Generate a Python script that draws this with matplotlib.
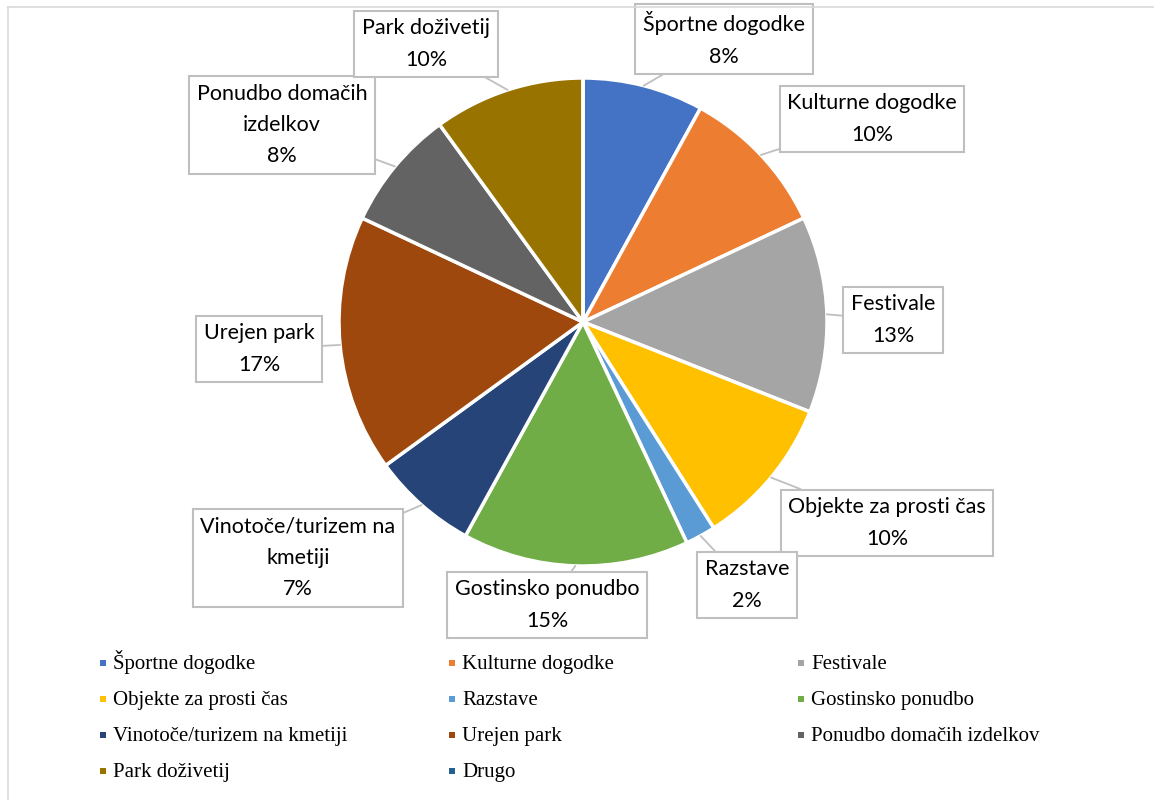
import matplotlib
matplotlib.use("Agg")
import matplotlib.pyplot as plt
import numpy as np

categories = [
    "Športne dogodke", "Kulturne dogodke", "Festivale", "Objekte za prosti čas",
    "Razstave", "Gostinsko ponudbo", "Vinotoče/turizem na kmetiji", "Urejen park",
    "Ponudbo domačih izdelkov", "Park doživetij", "Drugo",
]
shares = [8, 10, 13, 10, 2, 15, 7, 17, 8, 10, 0]
colors = ["#4472C4", "#ED7D31", "#A5A5A5", "#FFC000", "#5B9BD5", "#70AD47",
          "#264478", "#9E480E", "#636363", "#997300", "#255E91"]
# callout text as shown in the boxes (line breaks like the original)
label_text = [
    "Športne dogodke", "Kulturne dogodke", "Festivale", "Objekte za prosti čas",
    "Razstave", "Gostinsko ponudbo", "Vinotoče/turizem na\nkmetiji", "Urejen park",
    "Ponudbo domačih\nizdelkov", "Park doživetij", None,
]
# box centres in pixel coordinates of the 1154x800 picture (y from top)
label_pos = [(724, 39), (872, 119), (893, 320), (887, 523), (747, 585),
             (547, 605), (298, 558), (259, 349), (282, 125), (426, 44), None]

W, H = 1154, 800
fig = plt.figure(figsize=(W / 100, H / 100), dpi=100)
fig.patch.set_facecolor("white")

# chart area border (only top and left visible)
fig.add_artist(plt.Line2D([8 / W, 8 / W], [0, 1 - 7 / H], color="#d9d9d9", lw=1.2))
fig.add_artist(plt.Line2D([8 / W, 1], [1 - 7 / H, 1 - 7 / H], color="#d9d9d9", lw=1.2))

cx, cy, r = 583, 322, 244
ax = fig.add_axes([(cx - r) / W, (H - cy - r) / H, 2 * r / W, 2 * r / H])
wedges, _ = ax.pie(shares, colors=colors, startangle=90, counterclock=False,
                   radius=1, wedgeprops=dict(edgecolor="white", linewidth=2.5))
ax.set_xlim(-1, 1)
ax.set_ylim(-1, 1)
ax.set_aspect("equal")
ax.axis("off")

label_font = ["Lato", "DejaVu Sans"]
for w, txt, val, pos in zip(wedges, label_text, shares, label_pos):
    if txt is None:
        continue
    ang = np.deg2rad((w.theta1 + w.theta2) / 2)
    xy = (np.cos(ang), np.sin(ang))
    ax.annotate(f"{txt}\n{val}%", xy=xy, xycoords="data",
                xytext=(pos[0], H - pos[1]), textcoords="figure pixels",
                ha="center", va="center", fontsize=15.5, family=label_font,
                linespacing=1.7, color="black",
                bbox=dict(boxstyle="square,pad=0.35", fc="white", ec="#bfbfbf", lw=1.5),
                arrowprops=dict(arrowstyle="-", color="#bfbfbf", lw=1.3,
                                shrinkA=0, shrinkB=0))

# legend: three columns, row-major order
lax = fig.add_axes([0, 0, 1, 1])
lax.set_xlim(0, W)
lax.set_ylim(H, 0)
lax.axis("off")
col_x = [103, 452, 801]
row_y0, row_dy = 663, 36
for i, (name, c) in enumerate(zip(categories, colors)):
    row, col = divmod(i, 3)
    x, y = col_x[col], row_y0 + row * row_dy
    lax.scatter([x], [y], marker="s", s=24, color=c, linewidths=0)
    lax.text(x + 10, y + 6, name, ha="left", va="baseline", fontsize=15,
             family=["Liberation Serif", "DejaVu Serif"], color="black")

fig.savefig("out.png", dpi=100)
